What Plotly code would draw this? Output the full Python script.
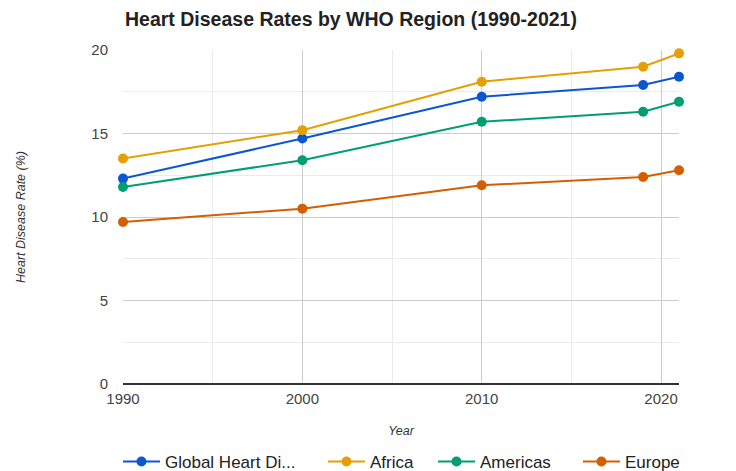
import plotly.graph_objects as go

years = [1990, 2000, 2010, 2019, 2021]
global_rate = [12.3, 14.7, 17.2, 17.9, 18.4]
africa = [13.5, 15.2, 18.1, 19.0, 19.8]
americas = [11.8, 13.4, 15.7, 16.3, 16.9]
europe = [9.7, 10.5, 11.9, 12.4, 12.8]

series = [
    ("Global Heart Di...", global_rate, "#0b57d0"),
    ("Africa", africa, "#e69f00"),
    ("Americas", americas, "#009e73"),
    ("Europe", europe, "#d55e00"),
]

FONT = "'Liberation Sans', Arial, sans-serif"
legend_names = ["legend", "legend2", "legend3", "legend4"]
legend_x = [-0.009, 0.3597, 0.5576, 0.8183]

fig = go.Figure()
for (name, vals, color), lg in zip(series, legend_names):
    fig.add_trace(go.Scatter(
        x=years, y=vals, name=name, mode="lines+markers",
        line=dict(color=color, width=2),
        marker=dict(color=color, size=10),
        cliponaxis=False, legend=lg,
    ))

W, H = 728, 463
L, T = 115, 42
R = W - 671
B = H - 376

layout_legends = {}
for lg, lx in zip(legend_names, legend_x):
    layout_legends[lg] = dict(orientation="h", x=lx, xanchor="left",
                              yref="container", y=(H - 454) / H, yanchor="middle",
                              itemwidth=37,
                              font=dict(size=17, color="#222", family=FONT),
                              bgcolor="rgba(0,0,0,0)")

fig.update_layout(
    width=W, height=H,
    margin=dict(l=L, r=R, t=T, b=B, autoexpand=False),
    paper_bgcolor="white", plot_bgcolor="white",
    font=dict(family=FONT, color="#444", size=14),
    title=dict(text="<b>Heart Disease Rates by WHO Region (1990-2021)</b>",
               x=(L + 2) / W, xanchor="left", y=1 - 4 / H, yanchor="top",
               font=dict(size=19.5, color="#222", family=FONT)),
    xaxis=dict(range=[1990, 2021], tickvals=[1990, 2000, 2010, 2020],
               showgrid=True, gridcolor="#cccccc", gridwidth=1,
               minor=dict(tickvals=[1995, 2005, 2015], showgrid=True, gridcolor="#ebebeb"),
               zeroline=False, showline=False, ticks="", ticklabelstandoff=4,
               title=dict(text="<i>Year</i>", font=dict(size=12.5, color="#333"), standoff=20),
               tickfont=dict(size=15, color="#444")),
    yaxis=dict(range=[0, 20], tickvals=[0, 5, 10, 15, 20],
               showgrid=True, gridcolor="#cccccc", gridwidth=1,
               minor=dict(tickvals=[2.5, 7.5, 12.5, 17.5], showgrid=True, gridcolor="#ebebeb"),
               zeroline=True, zerolinecolor="#333333", zerolinewidth=1.5,
               showline=False, ticks="", ticklabelstandoff=14,
               title=dict(text="<i>Heart Disease Rate (%)</i>", font=dict(size=12.5, color="#333"), standoff=62),
               tickfont=dict(size=15, color="#444")),
    showlegend=True,
    **layout_legends,
)

fig.write_html("out.html")
